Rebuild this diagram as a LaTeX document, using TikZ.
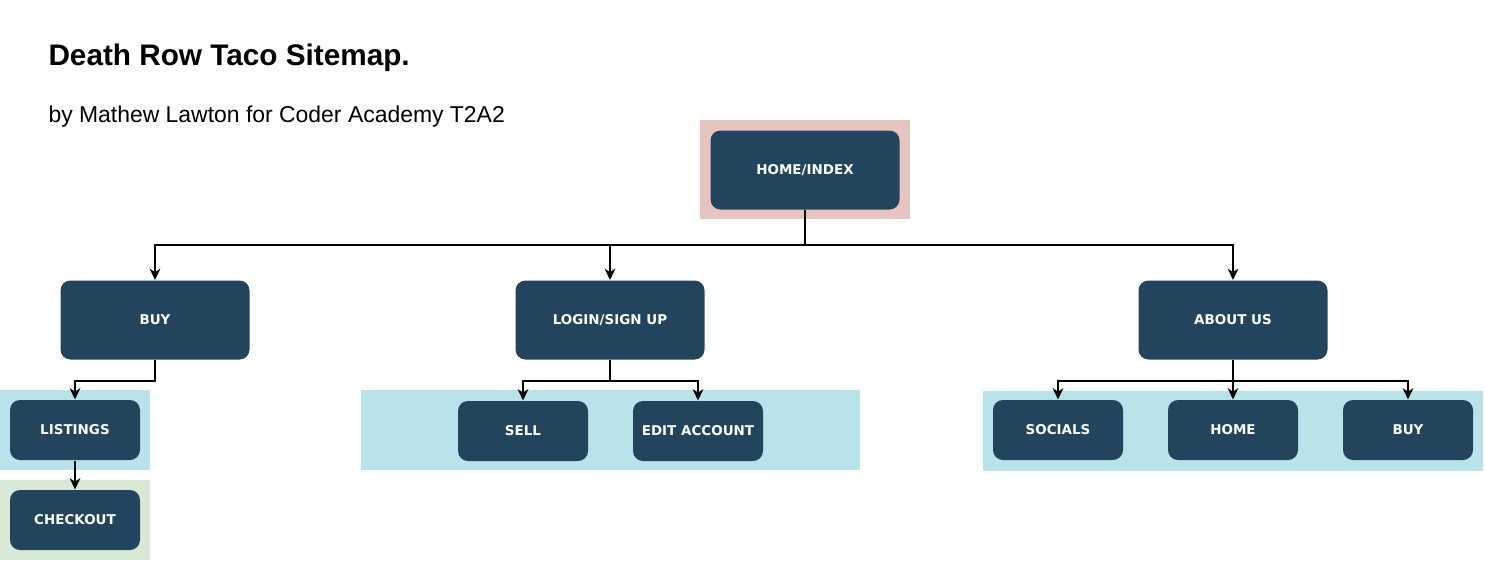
\documentclass[tikz,border=0pt]{standalone}
\usepackage{fontspec}
\setmainfont{Liberation Sans}
\newfontfamily\boxfont{DejaVu Sans}
\usetikzlibrary{arrows.meta}

\definecolor{boxblue}{RGB}{35,68,93}
\definecolor{bgpink}{RGB}{230,197,193}
\definecolor{bgcyan}{RGB}{184,228,233}
\definecolor{bggreen}{RGB}{215,232,212}

\tikzset{every picture/.style={line width=0.75pt}}
\tikzset{
	pagebox/.style={fill=boxblue, draw=none, rounded corners=7.5pt, text=white, align=center,
		font=\boxfont\bfseries\fontsize{10.1}{12}\selectfont},
	bigbox/.style={pagebox, minimum width=141.75pt, minimum height=59.25pt},
	smallbox/.style={pagebox, minimum width=97.5pt, minimum height=45pt},
	link/.style={line width=1.6pt, -{Stealth[length=8.5pt, width=8pt, inset=2.7pt]}},
}

\begin{document}
\begin{tikzpicture}[x=0.75pt,y=0.75pt,yscale=-1,xscale=1]
	\useasboundingbox (0,0) rectangle (1485,561);

	%Text: title
	\node[anchor=base west, inner sep=0pt, font=\bfseries\fontsize{22.3}{26}\selectfont] (title) at (48,65) {Death Row Taco Sitemap.};
	%Text: subtitle
	\node[anchor=base west, inner sep=0pt, font=\fontsize{17.2}{20}\selectfont] (subtitle) at (48,122) {by Mathew Lawton for Coder Academy T2A2};

	%Shape: Rectangle [backgrounds]
	\fill[bgpink] (700,120) rectangle (910,219);
	\fill[bgcyan] (0,390) rectangle (150,470);
	\fill[bggreen] (0,480) rectangle (150,560);
	\fill[bgcyan] (361,390) rectangle (860,470);
	\fill[bgcyan] (983,391) rectangle (1483,471);

	%Shape: Rounded Rect [top]
	\node[bigbox] (home) at (805,170) {HOME/INDEX};
	%Shape: Rounded Rect [level 1]
	\node[bigbox] (buy) at (155,320) {BUY};
	\node[bigbox] (login) at (610,320) {LOGIN/SIGN UP};
	\node[bigbox] (about) at (1233,320) {ABOUT US};
	%Shape: Rounded Rect [level 2]
	\node[smallbox] (listings) at (75,430) {LISTINGS};
	\node[smallbox] (checkout) at (75,520) {CHECKOUT};
	\node[smallbox] (sell) at (523,431) {SELL};
	\node[smallbox] (editAccount) at (698,431) {EDIT ACCOUNT};
	\node[smallbox] (socials) at (1058,430) {SOCIALS};
	\node[smallbox] (aboutHome) at (1233,430) {HOME};
	\node[smallbox] (aboutBuy) at (1408,430) {BUY};

	%Straight Lines [home to level 1]
	\draw[link] (home.south) -- ++(0,35) -| (buy.north);
	\draw[link] (home.south) -- ++(0,35) -| (login.north);
	\draw[link] (home.south) -- ++(0,35) -| (about.north);
	%Straight Lines [buy]
	\draw[link] (buy.south) -- ++(0,21) -| (listings.north);
	\draw[link] (listings.south) -- (checkout.north);
	%Straight Lines [login]
	\draw[link] (login.south) -- ++(0,21) -| (sell.north);
	\draw[link] (login.south) -- ++(0,21) -| (editAccount.north);
	%Straight Lines [about us]
	\draw[link] (about.south) -- ++(0,21) -| (socials.north);
	\draw[link] (about.south) -- (aboutHome.north);
	\draw[link] (about.south) -- ++(0,21) -| (aboutBuy.north);

\end{tikzpicture}
\end{document}
